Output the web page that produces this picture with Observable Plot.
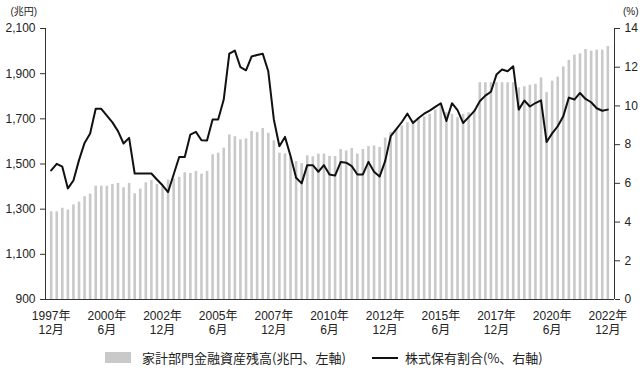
<!DOCTYPE html>
<html><head><meta charset="utf-8">
<script src="https://cdn.jsdelivr.net/npm/d3@7"></script>
<script src="https://cdn.jsdelivr.net/npm/@observablehq/plot@0.6"></script>
<style>
html,body{margin:0;padding:0;background:#fff;overflow:hidden;}
body{width:640px;height:375px;font-family:"Liberation Sans","Noto Sans CJK JP",sans-serif;color:#222;}
#legend{position:relative;height:35px;font-family:"Noto Sans CJK JP",sans-serif;font-size:13px;}
#legend .sw{position:absolute;top:12px;width:26px;height:11px;background:#c9c9c9;}
#legend .ln{position:absolute;top:17px;width:26px;height:2px;background:#111;}
#legend .tx{position:absolute;top:0;line-height:35px;white-space:nowrap;}
</style></head><body>
<div id="chart"></div>
<div id="legend">
  <span class="sw" style="left:105px"></span><span class="tx" style="left:142px">家計部門金融資産残高(兆円、左軸)</span>
  <span class="ln" style="left:372px"></span><span class="tx" style="left:405px">株式保有割合(%、右軸)</span>
</div>
<script>
// 家計部門金融資産残高（兆円）— quarterly, 1997年12月 … 2022年12月
const assets = [
 1288,1288,1304,1296,1319,1331,1355,1367,1402,1402,
 1402,1410,1414,1395,1414,1368,1389,1417,1427,1410,
 1405,1429,1433,1441,1461,1458,1467,1455,1467,1541,
 1548,1570,1629,1621,1607,1611,1644,1639,1657,1636,
 1603,1548,1545,1530,1511,1502,1536,1532,1544,1544,
 1534,1533,1564,1558,1569,1544,1564,1577,1580,1573,
 1615,1640,1654,1668,1683,1691,1700,1708,1720,1739,
 1760,1727,1720,1705,1720,1727,1737,1860,1860,1860,
 1860,1860,1860,1860,1837,1842,1849,1853,1881,1816,
 1867,1885,1930,1959,1982,1988,2007,2000,2004,2004,
 2020];
// 株式保有割合（%）
const stockShare = [
 6.67,7.01,6.86,5.74,6.15,7.2,8.09,8.58,9.85,9.85,
 9.5,9.15,8.7,8.06,8.35,6.51,6.51,6.51,6.51,6.2,
 5.9,5.55,6.46,7.36,7.36,8.52,8.66,8.23,8.22,9.3,
 9.3,10.33,12.7,12.86,12.0,11.84,12.55,12.63,12.7,11.79,
 9.3,7.92,8.4,7.41,6.29,6.0,6.94,6.94,6.6,6.94,
 6.46,6.4,7.1,7.07,6.89,6.46,6.46,7.11,6.6,6.35,
 7.15,8.44,8.8,9.17,9.6,9.12,9.38,9.6,9.76,9.95,
 10.14,9.22,10.14,9.78,9.12,9.42,9.73,10.24,10.53,10.73,
 11.62,11.88,11.79,12.05,9.81,10.28,9.97,10.15,10.29,8.14,
 8.58,8.95,9.47,10.43,10.33,10.67,10.36,10.19,9.88,9.75,
 9.81];
const tickIndex = [0,10,20,30,40,50,60,70,80,90,100];
const tickYears = ["1997年","2000年","2002年","2005年","2007年","2010年","2012年","2015年","2017年","2020年","2022年"];
const tickMonths = ["12月","6月","12月","6月","12月","6月","12月","6月","12月","6月","12月"];
const leftTicks = [900,1100,1300,1500,1700,1900,2100];
const rightTicks = [0,2,4,6,8,10,12,14];

const LEFT_DOMAIN = [900, 2100];
const RIGHT_DOMAIN = [0, 14];
const X_DOMAIN = [-1.02, 101.2];
const toLeft = p => LEFT_DOMAIN[0] + (p - RIGHT_DOMAIN[0]) * (LEFT_DOMAIN[1] - LEFT_DOMAIN[0]) / (RIGHT_DOMAIN[1] - RIGHT_DOMAIN[0]);
const toRight = v => RIGHT_DOMAIN[0] + (v - LEFT_DOMAIN[0]) * (RIGHT_DOMAIN[1] - RIGHT_DOMAIN[0]) / (LEFT_DOMAIN[1] - LEFT_DOMAIN[0]);
const idx = assets.map((_, i) => i);

const chart = Plot.plot({
  width: 640, height: 340,
  marginTop: 28, marginBottom: 41, marginLeft: 45, marginRight: 26,
  style: {fontFamily: '"Liberation Sans","Noto Sans CJK JP",sans-serif', fontSize: "12px", color: "#222", background: "#fff", overflow: "hidden"},
  x: {type: "linear", domain: X_DOMAIN, axis: null},
  y: {domain: LEFT_DOMAIN, axis: null},
  marks: [
    Plot.ruleX(idx, {x: i => i, y1: LEFT_DOMAIN[0], y2: i => assets[i], stroke: "#c9c9c9", strokeWidth: 2.6}),
    Plot.lineY(idx, {x: i => i, y: i => toLeft(stockShare[i]), stroke: "#111", strokeWidth: 2, strokeLinejoin: "round"}),
    Plot.ruleY([LEFT_DOMAIN[0]], {stroke: "#333"}),
    Plot.ruleX(X_DOMAIN, {y1: LEFT_DOMAIN[0], y2: LEFT_DOMAIN[1], stroke: "#333"}),
    Plot.axisY(leftTicks, {anchor: "left", tickSize: 5, tickPadding: 5, tickFormat: d3.format(","), label: null, stroke: "#333"}),
    Plot.axisY(rightTicks.map(toLeft), {anchor: "right", tickSize: 5, tickPadding: 5, tickFormat: d => String(Math.round(toRight(d))), label: null, stroke: "#333"}),
    Plot.axisX(tickIndex, {anchor: "bottom", tickSize: 0, tickPadding: 10, lineHeight: 1.2,
      tickFormat: d => { const k = tickIndex.indexOf(d); return tickYears[k] + "\n" + tickMonths[k]; }, label: null}),
    Plot.text(["(兆円)"], {frameAnchor: "top-left", dx: -35, dy: -14, lineAnchor: "bottom", textAnchor: "start", fontSize: 10, fill: "#222"}),
    Plot.text(["(%)"], {frameAnchor: "top-right", dx: 24, dy: -14, lineAnchor: "bottom", textAnchor: "end", fontSize: 10, fill: "#222"})
  ]
});
document.getElementById("chart").appendChild(chart);
</script>
</body></html>
